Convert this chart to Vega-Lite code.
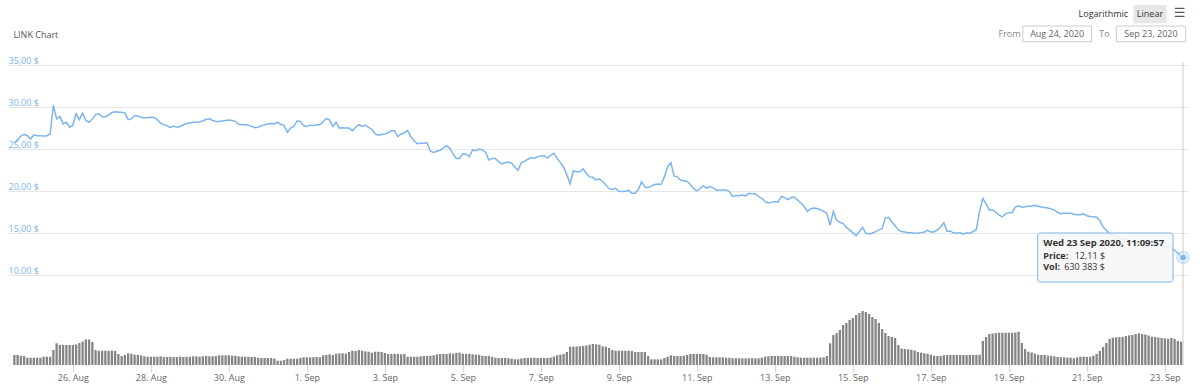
{
"$schema":"https://vega.github.io/schema/vega-lite/v6.json",
"width":1180,"height":365,"autosize":"none",
"padding":{"left":8,"right":12,"top":0,"bottom":24},
"background":"white",
"config":{"view":{"stroke":null},"text":{"font":"Open Sans","fontSize":9}},
"data":{"values":[
{"t":"2020-08-24T12:00","p":25.7,"v":10},{"t":"2020-08-24T14:00","p":26.1,"v":10},{"t":"2020-08-24T16:00","p":26.55,"v":9},{"t":"2020-08-24T18:00","p":26.75,"v":9},{"t":"2020-08-24T20:00","p":26.6,"v":7.3},{"t":"2020-08-24T22:00","p":26.2,"v":7.3},
{"t":"2020-08-25T00:00","p":26.7,"v":7.3},{"t":"2020-08-25T02:00","p":26.6,"v":7.3},{"t":"2020-08-25T04:00","p":26.6,"v":7.3},{"t":"2020-08-25T06:00","p":26.55,"v":8.3},{"t":"2020-08-25T08:00","p":26.6,"v":8.3},{"t":"2020-08-25T10:00","p":26.8,"v":8.3},{"t":"2020-08-25T12:00","p":30.2,"v":15},{"t":"2020-08-25T14:00","p":28.6,"v":21.7},{"t":"2020-08-25T16:00","p":28.9,"v":20},{"t":"2020-08-25T18:00","p":28.0,"v":20},{"t":"2020-08-25T20:00","p":28.2,"v":20},{"t":"2020-08-25T22:00","p":27.6,"v":20},
{"t":"2020-08-26T00:00","p":27.85,"v":20},{"t":"2020-08-26T02:00","p":29.2,"v":20.5},{"t":"2020-08-26T04:00","p":28.5,"v":22},{"t":"2020-08-26T06:00","p":29.3,"v":23.5},{"t":"2020-08-26T08:00","p":28.4,"v":25.7},{"t":"2020-08-26T10:00","p":28.2,"v":25.5},{"t":"2020-08-26T12:00","p":28.6,"v":23},{"t":"2020-08-26T14:00","p":29.1,"v":15},{"t":"2020-08-26T16:00","p":29.2,"v":14.3},{"t":"2020-08-26T18:00","p":28.85,"v":14.3},{"t":"2020-08-26T20:00","p":28.85,"v":14.3},{"t":"2020-08-26T22:00","p":29.05,"v":14.3},
{"t":"2020-08-27T00:00","p":29.35,"v":14.3},{"t":"2020-08-27T02:00","p":29.45,"v":14},{"t":"2020-08-27T04:00","p":29.4,"v":11},{"t":"2020-08-27T06:00","p":29.4,"v":9},{"t":"2020-08-27T08:00","p":29.3,"v":10},{"t":"2020-08-27T10:00","p":28.5,"v":11.7},{"t":"2020-08-27T12:00","p":28.6,"v":11.3},{"t":"2020-08-27T14:00","p":29.0,"v":10.3},{"t":"2020-08-27T16:00","p":28.9,"v":10},{"t":"2020-08-27T18:00","p":28.8,"v":9.7},{"t":"2020-08-27T20:00","p":28.7,"v":8.7},{"t":"2020-08-27T22:00","p":28.75,"v":8.3},
{"t":"2020-08-28T00:00","p":28.8,"v":8.3},{"t":"2020-08-28T02:00","p":28.75,"v":8.3},{"t":"2020-08-28T04:00","p":28.5,"v":8.3},{"t":"2020-08-28T06:00","p":28.1,"v":8.7},{"t":"2020-08-28T08:00","p":27.9,"v":8},{"t":"2020-08-28T10:00","p":27.8,"v":8},{"t":"2020-08-28T12:00","p":27.55,"v":8.3},{"t":"2020-08-28T14:00","p":27.75,"v":8},{"t":"2020-08-28T16:00","p":27.6,"v":8},{"t":"2020-08-28T18:00","p":27.7,"v":8.3},{"t":"2020-08-28T20:00","p":27.9,"v":8},{"t":"2020-08-28T22:00","p":28.05,"v":8.3},
{"t":"2020-08-29T00:00","p":28.1,"v":8.3},{"t":"2020-08-29T02:00","p":28.2,"v":8.7},{"t":"2020-08-29T04:00","p":28.2,"v":8.7},{"t":"2020-08-29T06:00","p":28.25,"v":8.3},{"t":"2020-08-29T08:00","p":28.35,"v":8.7},{"t":"2020-08-29T10:00","p":28.55,"v":9},{"t":"2020-08-29T12:00","p":28.6,"v":8.7},{"t":"2020-08-29T14:00","p":28.4,"v":8.7},{"t":"2020-08-29T16:00","p":28.3,"v":9},{"t":"2020-08-29T18:00","p":28.3,"v":9.7},{"t":"2020-08-29T20:00","p":28.35,"v":9.7},{"t":"2020-08-29T22:00","p":28.4,"v":9.7},
{"t":"2020-08-30T00:00","p":28.45,"v":9.7},{"t":"2020-08-30T02:00","p":28.4,"v":9.3},{"t":"2020-08-30T04:00","p":28.3,"v":9.3},{"t":"2020-08-30T06:00","p":27.95,"v":8.7},{"t":"2020-08-30T08:00","p":27.9,"v":8.3},{"t":"2020-08-30T10:00","p":27.9,"v":8.3},{"t":"2020-08-30T12:00","p":27.85,"v":8.3},{"t":"2020-08-30T14:00","p":27.7,"v":8},{"t":"2020-08-30T16:00","p":27.55,"v":8},{"t":"2020-08-30T18:00","p":27.6,"v":7.3},{"t":"2020-08-30T20:00","p":27.8,"v":7},{"t":"2020-08-30T22:00","p":27.9,"v":7},
{"t":"2020-08-31T00:00","p":28.0,"v":7},{"t":"2020-08-31T02:00","p":28.05,"v":7},{"t":"2020-08-31T04:00","p":28.0,"v":6.5},{"t":"2020-08-31T06:00","p":28.2,"v":4.3},{"t":"2020-08-31T08:00","p":27.95,"v":4.3},{"t":"2020-08-31T10:00","p":27.8,"v":5},{"t":"2020-08-31T12:00","p":27.0,"v":6.3},{"t":"2020-08-31T14:00","p":27.5,"v":6.3},{"t":"2020-08-31T16:00","p":27.7,"v":6.3},{"t":"2020-08-31T18:00","p":28.35,"v":6.3},{"t":"2020-08-31T20:00","p":28.3,"v":7},{"t":"2020-08-31T22:00","p":27.8,"v":7.7},
{"t":"2020-09-01T00:00","p":27.7,"v":7.7},{"t":"2020-09-01T02:00","p":27.85,"v":7.7},{"t":"2020-09-01T04:00","p":27.8,"v":7.7},{"t":"2020-09-01T06:00","p":27.9,"v":8},{"t":"2020-09-01T08:00","p":27.9,"v":7.7},{"t":"2020-09-01T10:00","p":28.25,"v":9.7},{"t":"2020-09-01T12:00","p":28.65,"v":10},{"t":"2020-09-01T14:00","p":28.45,"v":10.7},{"t":"2020-09-01T16:00","p":27.7,"v":10},{"t":"2020-09-01T18:00","p":28.2,"v":11.3},{"t":"2020-09-01T20:00","p":27.5,"v":11.7},{"t":"2020-09-01T22:00","p":27.55,"v":11.7},
{"t":"2020-09-02T00:00","p":27.5,"v":11.3},{"t":"2020-09-02T02:00","p":27.5,"v":13},{"t":"2020-09-02T04:00","p":27.2,"v":14.3},{"t":"2020-09-02T06:00","p":27.6,"v":14},{"t":"2020-09-02T08:00","p":27.9,"v":15},{"t":"2020-09-02T10:00","p":27.7,"v":14.3},{"t":"2020-09-02T12:00","p":27.85,"v":13.7},{"t":"2020-09-02T14:00","p":27.6,"v":13.3},{"t":"2020-09-02T16:00","p":27.35,"v":12.3},{"t":"2020-09-02T18:00","p":26.8,"v":13.3},{"t":"2020-09-02T20:00","p":26.65,"v":13.3},{"t":"2020-09-02T22:00","p":26.75,"v":13},
{"t":"2020-09-03T00:00","p":26.8,"v":12},{"t":"2020-09-03T02:00","p":26.95,"v":11},{"t":"2020-09-03T04:00","p":27.2,"v":11},{"t":"2020-09-03T06:00","p":27.2,"v":11.3},{"t":"2020-09-03T08:00","p":26.5,"v":11},{"t":"2020-09-03T10:00","p":26.8,"v":10.7},{"t":"2020-09-03T12:00","p":26.95,"v":11},{"t":"2020-09-03T14:00","p":27.2,"v":8.3},{"t":"2020-09-03T16:00","p":26.5,"v":8.3},{"t":"2020-09-03T18:00","p":26.0,"v":8.3},{"t":"2020-09-03T20:00","p":25.65,"v":8.3},{"t":"2020-09-03T22:00","p":25.7,"v":8.7},
{"t":"2020-09-04T00:00","p":25.7,"v":9},{"t":"2020-09-04T02:00","p":25.75,"v":9},{"t":"2020-09-04T04:00","p":24.75,"v":9.3},{"t":"2020-09-04T06:00","p":24.6,"v":9.7},{"t":"2020-09-04T08:00","p":24.75,"v":10.7},{"t":"2020-09-04T10:00","p":24.85,"v":11},{"t":"2020-09-04T12:00","p":25.15,"v":11},{"t":"2020-09-04T14:00","p":25.4,"v":11},{"t":"2020-09-04T16:00","p":25.1,"v":11.7},{"t":"2020-09-04T18:00","p":24.4,"v":11.3},{"t":"2020-09-04T20:00","p":23.9,"v":12},{"t":"2020-09-04T22:00","p":23.9,"v":12.3},
{"t":"2020-09-05T00:00","p":24.45,"v":11.3},{"t":"2020-09-05T02:00","p":24.4,"v":11},{"t":"2020-09-05T04:00","p":24.1,"v":11.3},{"t":"2020-09-05T06:00","p":24.9,"v":10.7},{"t":"2020-09-05T08:00","p":24.8,"v":10.3},{"t":"2020-09-05T10:00","p":25.0,"v":10},{"t":"2020-09-05T12:00","p":24.9,"v":9.3},{"t":"2020-09-05T14:00","p":24.6,"v":9},{"t":"2020-09-05T16:00","p":23.7,"v":9},{"t":"2020-09-05T18:00","p":23.9,"v":8.3},{"t":"2020-09-05T20:00","p":23.9,"v":7.3},{"t":"2020-09-05T22:00","p":23.5,"v":7},
{"t":"2020-09-06T00:00","p":23.25,"v":7},{"t":"2020-09-06T02:00","p":23.4,"v":7},{"t":"2020-09-06T04:00","p":23.45,"v":6.7},{"t":"2020-09-06T06:00","p":23.35,"v":6.3},{"t":"2020-09-06T08:00","p":22.85,"v":5.7},{"t":"2020-09-06T10:00","p":22.5,"v":5.7},{"t":"2020-09-06T12:00","p":23.4,"v":6.5},{"t":"2020-09-06T14:00","p":23.55,"v":7},{"t":"2020-09-06T16:00","p":23.8,"v":7},{"t":"2020-09-06T18:00","p":24.0,"v":7},{"t":"2020-09-06T20:00","p":23.9,"v":7.3},{"t":"2020-09-06T22:00","p":24.1,"v":7},
{"t":"2020-09-07T00:00","p":24.2,"v":7},{"t":"2020-09-07T02:00","p":24.25,"v":7},{"t":"2020-09-07T04:00","p":23.95,"v":7},{"t":"2020-09-07T06:00","p":24.25,"v":7.5},{"t":"2020-09-07T08:00","p":24.5,"v":8.5},{"t":"2020-09-07T10:00","p":23.9,"v":9.7},{"t":"2020-09-07T12:00","p":23.4,"v":10.3},{"t":"2020-09-07T14:00","p":22.85,"v":11},{"t":"2020-09-07T16:00","p":21.95,"v":13},{"t":"2020-09-07T18:00","p":20.9,"v":18.3},{"t":"2020-09-07T20:00","p":22.4,"v":18.3},{"t":"2020-09-07T22:00","p":22.3,"v":18.5},
{"t":"2020-09-08T00:00","p":22.3,"v":18.7},{"t":"2020-09-08T02:00","p":22.65,"v":19},{"t":"2020-09-08T04:00","p":22.1,"v":19.5},{"t":"2020-09-08T06:00","p":21.7,"v":20.3},{"t":"2020-09-08T08:00","p":21.65,"v":21},{"t":"2020-09-08T10:00","p":21.35,"v":20.7},{"t":"2020-09-08T12:00","p":21.45,"v":20.3},{"t":"2020-09-08T14:00","p":21.15,"v":18.7},{"t":"2020-09-08T16:00","p":20.75,"v":18.3},{"t":"2020-09-08T18:00","p":20.3,"v":17},{"t":"2020-09-08T20:00","p":20.2,"v":15},{"t":"2020-09-08T22:00","p":20.35,"v":14.3},
{"t":"2020-09-09T00:00","p":20.0,"v":14.3},{"t":"2020-09-09T02:00","p":19.95,"v":14.3},{"t":"2020-09-09T04:00","p":20.0,"v":14.3},{"t":"2020-09-09T06:00","p":20.1,"v":14.3},{"t":"2020-09-09T08:00","p":19.75,"v":14},{"t":"2020-09-09T10:00","p":19.75,"v":13},{"t":"2020-09-09T12:00","p":20.2,"v":13},{"t":"2020-09-09T14:00","p":21.1,"v":13},{"t":"2020-09-09T16:00","p":20.5,"v":13},{"t":"2020-09-09T18:00","p":20.45,"v":9},{"t":"2020-09-09T20:00","p":20.6,"v":5.7},{"t":"2020-09-09T22:00","p":20.8,"v":5.7},
{"t":"2020-09-10T00:00","p":20.85,"v":5.7},{"t":"2020-09-10T02:00","p":20.8,"v":5.7},{"t":"2020-09-10T04:00","p":21.7,"v":7},{"t":"2020-09-10T06:00","p":22.9,"v":8.3},{"t":"2020-09-10T08:00","p":23.4,"v":9.7},{"t":"2020-09-10T10:00","p":21.8,"v":9},{"t":"2020-09-10T12:00","p":21.7,"v":9},{"t":"2020-09-10T14:00","p":21.3,"v":9},{"t":"2020-09-10T16:00","p":21.25,"v":9.3},{"t":"2020-09-10T18:00","p":21.15,"v":10},{"t":"2020-09-10T20:00","p":20.8,"v":11},{"t":"2020-09-10T22:00","p":20.3,"v":11},
{"t":"2020-09-11T00:00","p":20.05,"v":11},{"t":"2020-09-11T02:00","p":20.3,"v":11},{"t":"2020-09-11T04:00","p":20.65,"v":11},{"t":"2020-09-11T06:00","p":20.35,"v":10.3},{"t":"2020-09-11T08:00","p":20.55,"v":8},{"t":"2020-09-11T10:00","p":20.4,"v":7.7},{"t":"2020-09-11T12:00","p":20.15,"v":7.7},{"t":"2020-09-11T14:00","p":20.1,"v":7.7},{"t":"2020-09-11T16:00","p":20.15,"v":7.7},{"t":"2020-09-11T18:00","p":20.15,"v":7.3},{"t":"2020-09-11T20:00","p":19.95,"v":7.3},{"t":"2020-09-11T22:00","p":19.35,"v":6.7},
{"t":"2020-09-12T00:00","p":19.5,"v":6.7},{"t":"2020-09-12T02:00","p":19.45,"v":6.7},{"t":"2020-09-12T04:00","p":19.55,"v":6.7},{"t":"2020-09-12T06:00","p":19.45,"v":6.7},{"t":"2020-09-12T08:00","p":19.75,"v":6.7},{"t":"2020-09-12T10:00","p":19.7,"v":6.7},{"t":"2020-09-12T12:00","p":19.7,"v":6.7},{"t":"2020-09-12T14:00","p":19.35,"v":6.7},{"t":"2020-09-12T16:00","p":19.15,"v":7.3},{"t":"2020-09-12T18:00","p":18.75,"v":8.3},{"t":"2020-09-12T20:00","p":18.6,"v":8.7},{"t":"2020-09-12T22:00","p":18.7,"v":9},
{"t":"2020-09-13T00:00","p":18.75,"v":9},{"t":"2020-09-13T02:00","p":18.7,"v":9},{"t":"2020-09-13T04:00","p":19.4,"v":9},{"t":"2020-09-13T06:00","p":19.2,"v":9},{"t":"2020-09-13T08:00","p":19.0,"v":9},{"t":"2020-09-13T10:00","p":19.25,"v":9},{"t":"2020-09-13T12:00","p":19.3,"v":8.3},{"t":"2020-09-13T14:00","p":18.95,"v":7.7},{"t":"2020-09-13T16:00","p":18.6,"v":7.3},{"t":"2020-09-13T18:00","p":18.2,"v":7.3},{"t":"2020-09-13T20:00","p":17.6,"v":7.3},{"t":"2020-09-13T22:00","p":17.9,"v":7.3},
{"t":"2020-09-14T00:00","p":18.0,"v":7.3},{"t":"2020-09-14T02:00","p":17.95,"v":7.3},{"t":"2020-09-14T04:00","p":17.8,"v":7.3},{"t":"2020-09-14T06:00","p":17.6,"v":7.7},{"t":"2020-09-14T08:00","p":17.35,"v":9},{"t":"2020-09-14T10:00","p":15.95,"v":21.7},{"t":"2020-09-14T12:00","p":17.6,"v":30},{"t":"2020-09-14T14:00","p":16.55,"v":32},{"t":"2020-09-14T16:00","p":16.3,"v":35},{"t":"2020-09-14T18:00","p":16.15,"v":40},{"t":"2020-09-14T20:00","p":15.7,"v":42},{"t":"2020-09-14T22:00","p":15.4,"v":45},
{"t":"2020-09-15T00:00","p":15.05,"v":47},{"t":"2020-09-15T02:00","p":14.7,"v":50},{"t":"2020-09-15T04:00","p":15.2,"v":52},{"t":"2020-09-15T06:00","p":15.7,"v":54},{"t":"2020-09-15T08:00","p":15.0,"v":53},{"t":"2020-09-15T10:00","p":14.95,"v":51},{"t":"2020-09-15T12:00","p":15.0,"v":48},{"t":"2020-09-15T14:00","p":15.2,"v":46},{"t":"2020-09-15T16:00","p":15.4,"v":42},{"t":"2020-09-15T18:00","p":15.55,"v":36},{"t":"2020-09-15T20:00","p":16.8,"v":32},{"t":"2020-09-15T22:00","p":16.9,"v":29},
{"t":"2020-09-16T00:00","p":16.35,"v":28},{"t":"2020-09-16T02:00","p":15.9,"v":27},{"t":"2020-09-16T04:00","p":15.4,"v":20},{"t":"2020-09-16T06:00","p":15.2,"v":16.5},{"t":"2020-09-16T08:00","p":15.15,"v":16},{"t":"2020-09-16T10:00","p":15.05,"v":15.7},{"t":"2020-09-16T12:00","p":15.05,"v":15.3},{"t":"2020-09-16T14:00","p":15.0,"v":14.5},{"t":"2020-09-16T16:00","p":15.03,"v":13},{"t":"2020-09-16T18:00","p":15.07,"v":12.3},{"t":"2020-09-16T20:00","p":15.15,"v":11.7},{"t":"2020-09-16T22:00","p":15.35,"v":11.3},
{"t":"2020-09-17T00:00","p":15.15,"v":10.3},{"t":"2020-09-17T02:00","p":15.15,"v":9.3},{"t":"2020-09-17T04:00","p":15.4,"v":9},{"t":"2020-09-17T06:00","p":15.75,"v":9},{"t":"2020-09-17T08:00","p":16.25,"v":9.7},{"t":"2020-09-17T10:00","p":15.25,"v":10},{"t":"2020-09-17T12:00","p":15.25,"v":10},{"t":"2020-09-17T14:00","p":15.05,"v":10},{"t":"2020-09-17T16:00","p":15.0,"v":10},{"t":"2020-09-17T18:00","p":15.05,"v":10},{"t":"2020-09-17T20:00","p":14.9,"v":10},{"t":"2020-09-17T22:00","p":15.05,"v":10},
{"t":"2020-09-18T00:00","p":15.0,"v":10},{"t":"2020-09-18T02:00","p":15.2,"v":10},{"t":"2020-09-18T04:00","p":15.45,"v":10},{"t":"2020-09-18T06:00","p":17.6,"v":10.3},{"t":"2020-09-18T08:00","p":19.15,"v":24},{"t":"2020-09-18T10:00","p":18.5,"v":28},{"t":"2020-09-18T12:00","p":17.75,"v":31},{"t":"2020-09-18T14:00","p":17.8,"v":31.5},{"t":"2020-09-18T16:00","p":17.5,"v":32},{"t":"2020-09-18T18:00","p":17.15,"v":32.3},{"t":"2020-09-18T20:00","p":16.95,"v":32.3},{"t":"2020-09-18T22:00","p":17.3,"v":32.3},
{"t":"2020-09-19T00:00","p":17.45,"v":32.3},{"t":"2020-09-19T02:00","p":17.45,"v":32.3},{"t":"2020-09-19T04:00","p":18.1,"v":32.5},{"t":"2020-09-19T06:00","p":18.25,"v":33.3},{"t":"2020-09-19T08:00","p":18.1,"v":22},{"t":"2020-09-19T10:00","p":18.15,"v":16},{"t":"2020-09-19T12:00","p":18.2,"v":13.3},{"t":"2020-09-19T14:00","p":18.2,"v":12.5},{"t":"2020-09-19T16:00","p":18.33,"v":11.5},{"t":"2020-09-19T18:00","p":18.2,"v":10.3},{"t":"2020-09-19T20:00","p":18.12,"v":10},{"t":"2020-09-19T22:00","p":18.05,"v":10},
{"t":"2020-09-20T00:00","p":18.0,"v":9.5},{"t":"2020-09-20T02:00","p":17.9,"v":9.3},{"t":"2020-09-20T04:00","p":17.75,"v":8.7},{"t":"2020-09-20T06:00","p":17.5,"v":8},{"t":"2020-09-20T08:00","p":17.32,"v":7.7},{"t":"2020-09-20T10:00","p":17.38,"v":7.7},{"t":"2020-09-20T12:00","p":17.38,"v":7.3},{"t":"2020-09-20T14:00","p":17.38,"v":7.3},{"t":"2020-09-20T16:00","p":17.25,"v":6.7},{"t":"2020-09-20T18:00","p":17.2,"v":7.7},{"t":"2020-09-20T20:00","p":17.2,"v":8.3},{"t":"2020-09-20T22:00","p":17.3,"v":8.3},
{"t":"2020-09-21T00:00","p":17.07,"v":8},{"t":"2020-09-21T02:00","p":17.0,"v":8.3},{"t":"2020-09-21T04:00","p":16.95,"v":9.3},{"t":"2020-09-21T06:00","p":16.9,"v":11},{"t":"2020-09-21T08:00","p":16.5,"v":14},{"t":"2020-09-21T10:00","p":15.75,"v":18},{"t":"2020-09-21T12:00","p":15.35,"v":22},{"t":"2020-09-21T14:00","p":14.95,"v":26},{"t":"2020-09-21T16:00","p":14.75,"v":27.3},{"t":"2020-09-21T18:00","p":14.55,"v":27.7},{"t":"2020-09-21T20:00","p":14.45,"v":27.7},{"t":"2020-09-21T22:00","p":14.3,"v":28},
{"t":"2020-09-22T00:00","p":14.2,"v":29},{"t":"2020-09-22T02:00","p":14.1,"v":29.7},{"t":"2020-09-22T04:00","p":14.0,"v":30},{"t":"2020-09-22T06:00","p":13.9,"v":31},{"t":"2020-09-22T08:00","p":13.8,"v":31.7},{"t":"2020-09-22T10:00","p":13.75,"v":31},{"t":"2020-09-22T12:00","p":13.7,"v":30.5},{"t":"2020-09-22T14:00","p":13.62,"v":29.5},{"t":"2020-09-22T16:00","p":13.55,"v":28.3},{"t":"2020-09-22T18:00","p":13.5,"v":28},{"t":"2020-09-22T20:00","p":13.47,"v":27.5},{"t":"2020-09-22T22:00","p":13.43,"v":27},
{"t":"2020-09-23T00:00","p":13.4,"v":26.7},{"t":"2020-09-23T02:00","p":13.33,"v":26.3},{"t":"2020-09-23T04:00","p":13.25,"v":27},{"t":"2020-09-23T06:00","p":12.95,"v":26},{"t":"2020-09-23T08:00","p":12.68,"v":24},{"t":"2020-09-23T10:00","p":12.3,"v":23.3},
{"t":"2020-09-23T11:09:57","p":12.11}
]},
"layer":[
{"mark":{"type":"bar","size":2.3,"color":"#858585"},
 "encoding":{
  "x":{"field":"t","type":"temporal","scale":{"domain":[{"year":2020,"month":8,"date":24,"hours":11,"minutes":9,"seconds":57},{"year":2020,"month":9,"date":23,"hours":11,"minutes":9,"seconds":57}]},
   "axis":{"title":null,"format":"%-d. %b","grid":false,"domain":false,"ticks":true,"tickColor":"#ccd6eb","tickSize":7,"labelColor":"#666666","labelFont":"Open Sans","labelFontSize":9,"labelPadding":1,"labelOverlap":false,"labelFlush":false,
    "values":[{"year":2020,"month":8,"date":26},{"year":2020,"month":8,"date":28},{"year":2020,"month":8,"date":30},{"year":2020,"month":9,"date":1},{"year":2020,"month":9,"date":3},{"year":2020,"month":9,"date":5},{"year":2020,"month":9,"date":7},{"year":2020,"month":9,"date":9},{"year":2020,"month":9,"date":11},{"year":2020,"month":9,"date":13},{"year":2020,"month":9,"date":15},{"year":2020,"month":9,"date":17},{"year":2020,"month":9,"date":19},{"year":2020,"month":9,"date":21},{"year":2020,"month":9,"date":23}]}},
  "y":{"field":"v","type":"quantitative","scale":{"domain":[0,365],"nice":false,"zero":true},"axis":null}}},
{"layer":[
 {"mark":{"type":"line","color":"#7cb5ec","strokeWidth":1.5},
  "encoding":{"x":{"field":"t","type":"temporal","scale":{"domain":[{"year":2020,"month":8,"date":24,"hours":11,"minutes":9,"seconds":57},{"year":2020,"month":9,"date":23,"hours":11,"minutes":9,"seconds":57}]}},
   "y":{"field":"p","type":"quantitative","scale":{"domain":[-0.663,42.73],"nice":false,"zero":false},
    "axis":{"orient":"left","title":null,"values":[10,15,20,25,30,35],"grid":true,"gridColor":"#e6e6e6","domain":false,"ticks":false,"tickSize":0,"labelAlign":"left","labelBaseline":"alphabetic","labelOffset":-2,"labelPadding":0,"labelColor":"#7cb5ec","labelFont":"Open Sans","labelFontSize":9,"labelFlush":false,"labelExpr":"replace(format(datum.value, '.2f'), '.', ',') + ' $'"}}}},
 {"data":{"values":[{}]},"mark":{"type":"rule","color":"#cccccc","strokeWidth":1},
  "encoding":{"x":{"datum":{"year":2020,"month":9,"date":23,"hours":11,"minutes":9,"seconds":57},"type":"temporal"},
   "y":{"datum":35.36,"type":"quantitative"},"y2":{"datum":-0.663}}},
 {"data":{"values":[{}]},"mark":{"type":"rect","fill":"#f7f7f7","fillOpacity":0.88,"stroke":"#7cb5ec","strokeWidth":1,"cornerRadius":3},
  "encoding":{"x":{"datum":{"year":2020,"month":9,"date":19,"hours":17,"minutes":45},"type":"temporal"},
   "x2":{"datum":{"year":2020,"month":9,"date":23,"hours":5,"minutes":3}},
   "y":{"datum":15.03,"type":"quantitative"},"y2":{"datum":9.2}}},
 {"data":{"values":[{}]},"mark":{"type":"text","align":"left","baseline":"middle","fontSize":9.5,"fontWeight":"bold","color":"#333333","text":"Wed 23 Sep 2020, 11:09:57"},
  "encoding":{"x":{"datum":{"year":2020,"month":9,"date":19,"hours":21,"minutes":10},"type":"temporal"},
   "y":{"datum":13.84,"type":"quantitative"}}},
 {"data":{"values":[{}]},"mark":{"type":"text","align":"left","baseline":"middle","fontSize":9,"fontWeight":"bold","color":"#333333","text":"Price:"},
  "encoding":{"x":{"datum":{"year":2020,"month":9,"date":19,"hours":21,"minutes":10},"type":"temporal"},
   "y":{"datum":12.35,"type":"quantitative"}}},
 {"data":{"values":[{}]},"mark":{"type":"text","align":"left","baseline":"middle","fontSize":9,"color":"#333333","text":"12,11 $"},
  "encoding":{"x":{"datum":{"year":2020,"month":9,"date":20,"hours":16,"minutes":30},"type":"temporal"},
   "y":{"datum":12.35,"type":"quantitative"}}},
 {"data":{"values":[{}]},"mark":{"type":"text","align":"left","baseline":"middle","fontSize":9,"fontWeight":"bold","color":"#333333","text":"Vol:"},
  "encoding":{"x":{"datum":{"year":2020,"month":9,"date":19,"hours":21,"minutes":10},"type":"temporal"},
   "y":{"datum":10.93,"type":"quantitative"}}},
 {"data":{"values":[{}]},"mark":{"type":"text","align":"left","baseline":"middle","fontSize":9,"color":"#333333","text":"630 383 $"},
  "encoding":{"x":{"datum":{"year":2020,"month":9,"date":20,"hours":10,"minutes":6},"type":"temporal"},
   "y":{"datum":10.93,"type":"quantitative"}}},
 {"data":{"values":[{}]},"mark":{"type":"point","filled":true,"size":196,"color":"#7cb5ec","opacity":0.3},
  "encoding":{"x":{"datum":{"year":2020,"month":9,"date":23,"hours":11,"minutes":9,"seconds":57},"type":"temporal"},
   "y":{"datum":12.11,"type":"quantitative"}}},
 {"data":{"values":[{}]},"mark":{"type":"point","filled":true,"size":49,"color":"#7cb5ec","opacity":1,"stroke":"#ffffff","strokeWidth":1},
  "encoding":{"x":{"datum":{"year":2020,"month":9,"date":23,"hours":11,"minutes":9,"seconds":57},"type":"temporal"},
   "y":{"datum":12.11,"type":"quantitative"}}},
 {"data":{"values":[{}]},"mark":{"type":"text","align":"left","baseline":"middle","fontSize":9,"color":"#555555","text":"LINK Chart"},
  "encoding":{"x":{"datum":{"year":2020,"month":8,"date":24,"hours":11,"minutes":25},"type":"temporal"},
   "y":{"datum":38.57,"type":"quantitative"}}},
 {"data":{"values":[{}]},"mark":{"type":"text","align":"center","baseline":"middle","fontSize":9,"color":"#333333","text":"Logarithmic"},
  "encoding":{"x":{"datum":{"year":2020,"month":9,"date":21,"hours":10,"minutes":10},"type":"temporal"},
   "y":{"datum":41.06,"type":"quantitative"}}},
 {"data":{"values":[{}]},"mark":{"type":"rect","fill":"#e6e6e6"},
  "encoding":{"x":{"datum":{"year":2020,"month":9,"date":22,"hours":4,"minutes":39},"type":"temporal"},
   "x2":{"datum":{"year":2020,"month":9,"date":23,"hours":1,"minutes":1}},
   "y":{"datum":42.13,"type":"quantitative"},"y2":{"datum":39.96}}},
 {"data":{"values":[{}]},"mark":{"type":"text","align":"center","baseline":"middle","fontSize":9,"color":"#333333","text":"Linear"},
  "encoding":{"x":{"datum":{"year":2020,"month":9,"date":22,"hours":14,"minutes":50},"type":"temporal"},
   "y":{"datum":41.06,"type":"quantitative"}}},
 {"data":{"values":[{}]},"mark":{"type":"text","align":"center","baseline":"middle","font":"DejaVu Sans","fontSize":13,"color":"#555555","text":"☰"},
  "encoding":{"x":{"datum":{"year":2020,"month":9,"date":23,"hours":9,"minutes":8},"type":"temporal"},
   "y":{"datum":41.18,"type":"quantitative"}}},
 {"data":{"values":[{}]},"mark":{"type":"text","align":"center","baseline":"middle","fontSize":9,"color":"#888888","text":"From"},
  "encoding":{"x":{"datum":{"year":2020,"month":9,"date":19,"hours":0,"minutes":26},"type":"temporal"},
   "y":{"datum":38.7,"type":"quantitative"}}},
 {"data":{"values":[{}]},"mark":{"type":"rect","fill":"#ffffff","stroke":"#cccccc","strokeWidth":1},
  "encoding":{"x":{"datum":{"year":2020,"month":9,"date":19,"hours":8,"minutes":36},"type":"temporal"},
   "x2":{"datum":{"year":2020,"month":9,"date":21,"hours":2,"minutes":51}},
   "y":{"datum":39.64,"type":"quantitative"},"y2":{"datum":37.77}}},
 {"data":{"values":[{}]},"mark":{"type":"text","align":"center","baseline":"middle","fontSize":9,"color":"#666666","text":"Aug 24, 2020"},
  "encoding":{"x":{"datum":{"year":2020,"month":9,"date":20,"hours":5,"minutes":42},"type":"temporal"},
   "y":{"datum":38.7,"type":"quantitative"}}},
 {"data":{"values":[{}]},"mark":{"type":"text","align":"center","baseline":"middle","fontSize":9,"color":"#888888","text":"To"},
  "encoding":{"x":{"datum":{"year":2020,"month":9,"date":21,"hours":10,"minutes":47},"type":"temporal"},
   "y":{"datum":38.7,"type":"quantitative"}}},
 {"data":{"values":[{}]},"mark":{"type":"rect","fill":"#ffffff","stroke":"#cccccc","strokeWidth":1},
  "encoding":{"x":{"datum":{"year":2020,"month":9,"date":21,"hours":18,"minutes":6},"type":"temporal"},
   "x2":{"datum":{"year":2020,"month":9,"date":23,"hours":12,"minutes":47}},
   "y":{"datum":39.64,"type":"quantitative"},"y2":{"datum":37.77}}},
 {"data":{"values":[{}]},"mark":{"type":"text","align":"center","baseline":"middle","fontSize":9,"color":"#666666","text":"Sep 23, 2020"},
  "encoding":{"x":{"datum":{"year":2020,"month":9,"date":22,"hours":15,"minutes":27},"type":"temporal"},
   "y":{"datum":38.7,"type":"quantitative"}}}
]}
],
"resolve":{"scale":{"y":"independent"},"axis":{"y":"independent"}}
}
